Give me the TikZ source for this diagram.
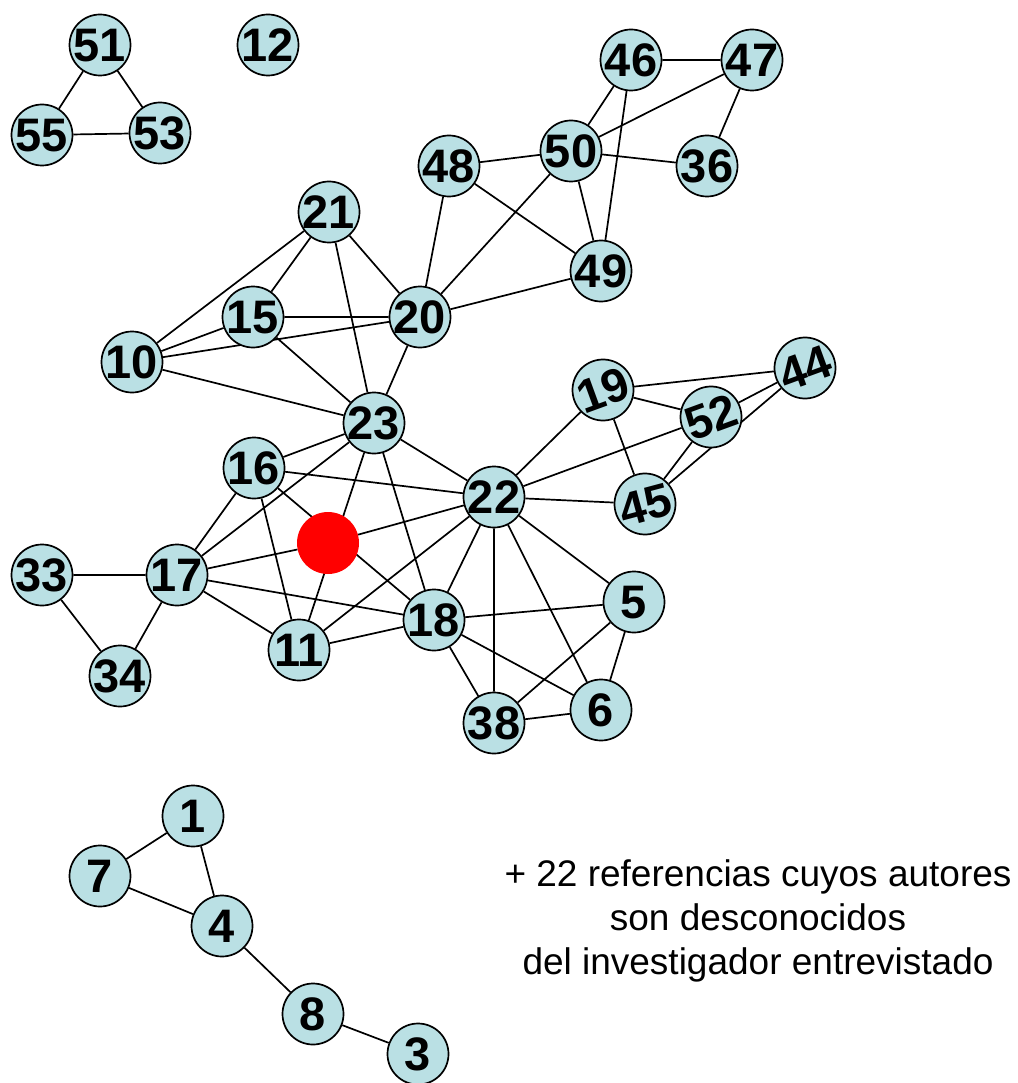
\documentclass[tikz,border=0pt]{standalone}
\usepackage{fontspec}
\setmainfont{Liberation Sans}
\usetikzlibrary{backgrounds}
\definecolor{nodefill}{RGB}{186,224,228}
\newcommand{\lbl}[1]{\makebox[0pt]{\smash{\raisebox{-0.36em}{#1}}}}
\begin{document}
\begin{tikzpicture}[x=1pt,y=-1pt,
  vtx/.style={circle,draw=black,line width=1.7pt,fill=nodefill,minimum size=61pt,inner sep=0pt,
    font=\fontsize{47}{47}\selectfont\bfseries},
  ego/.style={circle,fill=red,minimum size=62pt,inner sep=0pt},
  edge/.style={draw=black,line width=1.7pt},
  note/.style={font=\fontsize{37}{44}\selectfont,align=center}]
\useasboundingbox (0,0) rectangle (1017,1083);
% nodes
\node[vtx] (n51) at (100,45) {\lbl{51}};
\node[vtx] (n12) at (268,45) {\lbl{12}};
\node[vtx] (n55) at (42,135) {\lbl{55}};
\node[vtx] (n53) at (160,133) {\lbl{53}};
\node[vtx] (n46) at (631,60) {\lbl{46}};
\node[vtx] (n47) at (752,60) {\lbl{47}};
\node[vtx] (n50) at (571,151) {\lbl{50}};
\node[vtx] (n48) at (449,166) {\lbl{48}};
\node[vtx] (n36) at (707,166) {\lbl{36}};
\node[vtx] (n21) at (329,212) {\lbl{21}};
\node[vtx] (n49) at (601,271) {\lbl{49}};
\node[vtx] (n15) at (253,317) {\lbl{15}};
\node[vtx] (n20) at (420,317) {\lbl{20}};
\node[vtx] (n10) at (132,362) {\lbl{10}};
\node[vtx,rotate=20] (n19) at (603,390) {\lbl{19}};
\node[vtx,rotate=20] (n44) at (805,368) {\lbl{44}};
\node[vtx,rotate=20] (n52) at (711,417) {\lbl{52}};
\node[vtx] (n23) at (374,423) {\lbl{23}};
\node[vtx] (n16) at (254,468) {\lbl{16}};
\node[vtx] (n22) at (494,497) {\lbl{22}};
\node[vtx,rotate=15] (n45) at (645,504) {\lbl{45}};
\node[ego] (me) at (328,543) {};
\node[vtx] (n33) at (42,575) {\lbl{33}};
\node[vtx] (n17) at (177,575) {\lbl{17}};
\node[vtx] (n5) at (634,602) {\lbl{5}};
\node[vtx] (n18) at (434,620) {\lbl{18}};
\node[vtx] (n11) at (299,650) {\lbl{11}};
\node[vtx] (n34) at (120,676) {\lbl{34}};
\node[vtx] (n38) at (494,723) {\lbl{38}};
\node[vtx] (n6) at (601,710) {\lbl{6}};
\node[vtx] (n1) at (193,816) {\lbl{1}};
\node[vtx] (n7) at (100,876) {\lbl{7}};
\node[vtx] (n4) at (222,926) {\lbl{4}};
\node[vtx] (n8) at (313,1014) {\lbl{8}};
\node[vtx] (n3) at (418,1054) {\lbl{3}};
% text
\node[note] (txt) at (758,921) {+ 22 referencias cuyos autores\\son desconocidos\\del investigador entrevistado};
% edges
\begin{pgfonlayer}{background}
\path[edge]
  (n51) -- (n55) (n51) -- (n53) (n55) -- (n53)
  (n46) -- (n47) (n46) -- (n50) (n46) -- (n49) (n47) -- (n50) (n47) -- (n36)
  (n50) -- (n48) (n50) -- (n36) (n50) -- (n49) (n50) -- (n20)
  (n48) -- (n20) (n48) -- (n49) (n49) -- (n20)
  (n21) -- (n15) (n21) -- (n10) (n21) -- (n20) (n21) -- (n23)
  (n15) -- (n10) (n15) -- (n20) (n15) -- (n23)
  (n10) -- (n20) (n10) -- (n23) (n20) -- (n23)
  (n19) -- (n44) (n19) -- (n52) (n19) -- (n45) (n19) -- (n22)
  (n52) -- (n44) (n52) -- (n45) (n52) -- (n22) (n44) -- (n45) (n22) -- (n45)
  (n23) -- (n16) (n23) -- (n17) (n23) -- (n11) (n23) -- (n22) (n23) -- (n18)
  (n16) -- (n22) (n16) -- (n18) (n16) -- (n17) (n16) -- (n11)
  (me) -- (n22) (me) -- (n17)
  (n17) -- (n33) (n17) -- (n34) (n17) -- (n18) (n17) -- (n11) (n33) -- (n34)
  (n11) -- (n18) (n11) -- (n22)
  (n22) -- (n18) (n22) -- (n38) (n22) -- (n6) (n22) -- (n5)
  (n18) -- (n5) (n18) -- (n6) (n18) -- (n38)
  (n5) -- (n38) (n5) -- (n6) (n38) -- (n6)
  (n1) -- (n7) (n1) -- (n4) (n7) -- (n4) (n4) -- (n8) (n8) -- (n3);
\end{pgfonlayer}
\end{tikzpicture}
\end{document}
